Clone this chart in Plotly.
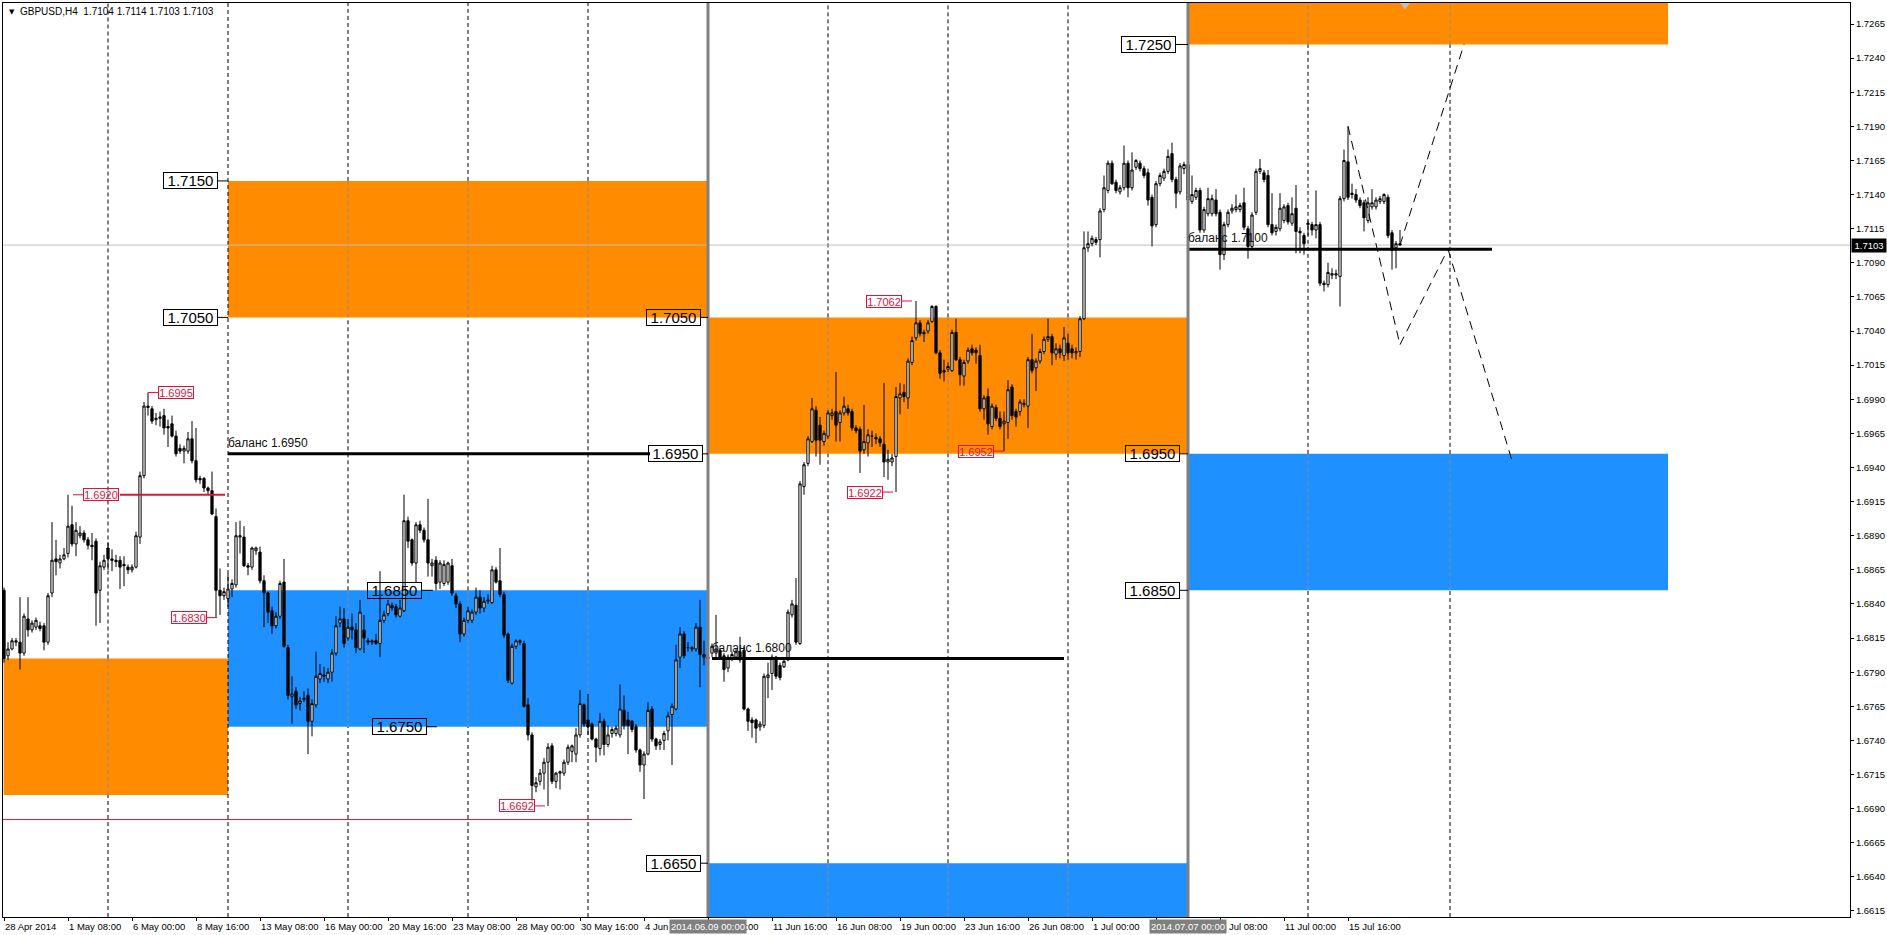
import plotly.graph_objects as go

FONT = "Liberation Sans, Arial, sans-serif"
BASE = 1.6  # candle values are stored in pips above 1.6000

# ---------------- H4 candles (bar 0 = 28 Apr 2014 16:00) ----------------
opens = [
 850,802,807,812,812,804,829,821,823,824,
 824,812,848,873,870,873,877,898,884,890,
 892,887,883,886,850,867,881,873,872,872,
 869,867,865,867,889,934,985,983,975,976,
 978,970,972,963,954,952,952,961,945,932,
 932,925,923,904,850,846,844,851,854,889,
 889,868,867,879,878,857,848,835,824,831,
 856,808,772,776,767,770,773,754,766,785,
 788,785,790,804,826,829,815,823,821,807,
 821,813,812,813,811,828,833,839,838,831,
 835,901,887,870,898,894,887,868,872,856,
 855,856,868,846,840,818,828,828,834,845,
 837,842,841,865,857,847,818,782,809,812,
 811,766,744,706,710,716,724,736,710,716,
 716,724,732,730,744,766,755,752,741,734,
 754,737,745,745,744,762,755,754,750,733,
 722,730,763,741,737,740,747,759,763,801,
 818,808,808,807,823,803,801,804,804,806,
 802,793,800,801,805,806,763,755,755,750,
 751,786,789,801,795,794,799,832,839,811,
 926,943,959,982,971,959,963,978,981,973,
 980,983,981,969,968,953,958,963,962,961,
 957,944,944,948,991,995,991,1017,1035,1046,
 1039,1040,1047,1058,1024,1011,1012,1011,1039,1019,
 1007,1018,1027,1026,1022,983,992,970,984,976,
 972,973,999,981,981,986,985,1019,1013,1018,
 1025,1034,1036,1023,1027,1022,1031,1027,1024,1025,
 1049,1101,1104,1107,1107,1129,1143,1163,1149,1142,
 1145,1163,1145,1160,1163,1159,1156,1138,1118,1148,
 1152,1157,1170,1151,1142,1159,1162,1135,1138,1143,
 1114,1126,1126,1136,1127,1096,1118,1128,1129,1129,
 1134,1115,1102,1127,1157,1156,1154,1118,1113,1115,
 1121,1132,1119,1130,1113,1110,1118,1118,1114,1118,
 1075,1074,1081,1081,1080,1137,1164,1141,1140,1136,
 1134,1121,1131,1131,1135,1135,1138,1112,1101,1104,
]
highs = [
 852,812,815,815,845,833,845,828,830,827,
 826,848,900,887,876,881,920,912,900,897,
 894,889,892,888,871,876,885,880,876,875,
 875,869,869,893,937,988,995,985,980,981,
 983,975,978,967,957,956,966,974,969,934,
 933,926,937,910,866,852,862,858,900,901,
 897,870,882,882,882,861,849,838,834,857,
 873,810,787,779,772,776,778,770,805,796,
 794,793,807,831,838,837,829,833,826,843,
 832,815,814,818,864,835,843,841,840,843,
 920,904,888,900,901,896,917,873,875,872,
 872,871,873,848,842,830,838,836,852,850,
 845,847,868,867,881,849,819,811,814,814,
 813,771,746,713,719,727,738,738,717,718,
 726,737,737,749,777,767,774,753,742,760,
 756,751,750,751,781,773,761,755,752,734,
 732,768,765,742,741,747,761,767,810,823,
 820,812,809,826,843,813,806,811,832,808,
 804,803,805,807,816,809,764,757,756,754,
 789,797,803,802,797,801,836,843,859,930,
 944,963,991,985,977,967,982,983,1010,982,
 992,986,983,971,970,986,968,967,965,963,
 1002,953,950,999,1002,1001,1020,1036,1062,1048,
 1041,1048,1059,1059,1026,1019,1017,1041,1049,1021,
 1019,1028,1030,1028,1030,993,998,987,986,981,
 981,1004,1001,983,990,990,1021,1038,1020,1027,
 1036,1049,1038,1031,1030,1043,1038,1030,1028,1051,
 1113,1113,1110,1109,1130,1154,1165,1165,1151,1147,
 1176,1165,1171,1166,1165,1161,1159,1140,1150,1156,
 1159,1173,1178,1153,1163,1164,1164,1154,1145,1145,
 1131,1145,1140,1144,1129,1120,1129,1133,1140,1134,
 1145,1117,1127,1159,1166,1158,1158,1141,1118,1141,
 1133,1134,1138,1147,1116,1112,1121,1120,1143,1120,
 1077,1090,1086,1085,1139,1173,1190,1148,1144,1138,
 1136,1138,1144,1138,1139,1141,1140,1114,1106,1114,
]
lows = [
 797,799,806,809,792,802,816,819,821,820,
 806,810,845,861,866,872,874,882,875,888,
 885,880,872,824,826,865,865,864,867,851,
 853,862,863,866,884,932,978,972,971,970,
 964,955,962,948,950,943,950,943,929,928,
 922,920,905,830,832,843,838,845,852,877,
 867,861,865,876,855,823,826,818,822,829,
 808,770,752,763,762,768,730,743,764,782,
 783,782,783,802,823,808,813,814,804,806,
 804,810,810,810,801,826,831,835,830,830,
 834,881,868,856,892,885,860,860,850,851,
 853,854,846,837,812,816,826,826,832,833,
 834,840,840,855,845,815,782,781,807,810,
 764,740,696,702,707,704,692,708,705,704,
 714,722,724,724,742,750,744,740,724,729,
 729,735,742,743,742,748,730,746,731,717,
 697,729,739,733,733,733,740,722,762,793,
 800,805,805,805,779,795,796,801,801,799,
 783,790,798,799,797,762,747,742,738,747,
 749,771,777,785,784,793,798,830,810,810,
 920,941,958,948,942,956,961,975,959,959,
 978,978,967,965,936,950,948,955,957,955,
 933,931,941,922,979,988,983,1015,1033,1036,
 1032,1038,1046,1023,1005,1003,1010,1010,1018,1000,
 1000,1016,1022,1016,981,975,964,968,974,968,
 952,961,975,970,978,984,969,1009,996,1016,
 1023,1032,1015,1019,1020,1018,1019,1020,1019,1021,
 1048,1098,1102,1103,1094,1127,1141,1147,1141,1140,
 1143,1138,1143,1158,1157,1152,1132,1102,1116,1146,
 1150,1155,1149,1130,1140,1155,1133,1133,1136,1112,
 1112,1124,1124,1124,1085,1092,1116,1126,1127,1127,
 1114,1093,1100,1125,1155,1149,1116,1110,1110,1113,
 1119,1118,1117,1097,1097,1096,1110,1110,1108,1073,
 1069,1072,1078,1078,1058,1135,1136,1137,1134,1130,
 1113,1119,1129,1129,1133,1133,1108,1085,1086,1103,
]
closes = [
 800,807,813,813,804,831,821,826,828,822,
 812,846,872,871,873,876,897,884,894,892,
 887,883,882,848,868,872,873,872,871,867,
 868,865,867,890,934,985,984,974,976,977,
 969,969,963,950,952,954,961,945,931,931,
 925,923,906,850,846,849,851,855,890,890,
 868,867,881,881,857,848,834,824,831,855,
 809,773,774,766,769,771,754,767,787,789,
 787,790,804,824,829,811,823,821,808,834,
 815,812,813,811,828,832,840,837,832,837,
 901,886,870,898,894,887,870,870,855,870,
 869,870,848,840,818,828,835,834,845,837,
 842,843,865,856,847,817,784,809,813,813,
 765,744,707,709,716,724,735,710,716,717,
 724,735,736,744,767,752,750,741,735,754,
 737,744,748,749,763,751,751,748,733,722,
 730,762,741,736,739,745,758,765,799,818,
 802,808,807,823,803,801,800,809,807,801,
 792,801,803,805,799,763,754,753,749,752,
 787,788,801,787,786,798,834,840,812,928,
 942,961,983,960,960,965,980,980,971,980,
 985,980,969,967,952,959,964,963,961,958,
 944,946,947,992,994,992,1018,1033,1046,1038,
 1038,1046,1058,1024,1009,1010,1014,1039,1019,1008,
 1017,1026,1024,1024,983,991,972,985,976,970,
 974,997,978,977,988,987,1019,1011,1018,1025,
 1034,1036,1024,1027,1024,1035,1024,1024,1025,1049,
 1101,1104,1108,1105,1128,1145,1163,1148,1143,1145,
 1163,1145,1158,1165,1159,1154,1136,1117,1148,1154,
 1157,1168,1151,1141,1161,1162,1136,1140,1143,1114,
 1129,1137,1137,1126,1096,1118,1127,1130,1131,1132,
 1116,1102,1125,1157,1159,1151,1118,1112,1116,1130,
 1131,1120,1126,1113,1112,1104,1119,1114,1118,1075,
 1074,1083,1082,1082,1137,1165,1138,1140,1136,1132,
 1123,1134,1134,1136,1137,1140,1110,1099,1104,1103,
]

# ---------------- axes ----------------
time_label_bars = [0, 16, 32, 48, 64, 80, 96, 112, 128, 144, 160, 176, 192, 208,
                   224, 240, 256, 272, 288, 304, 320, 336]
time_labels = ["28 Apr 2014", "1 May 08:00", "6 May 00:00", "8 May 16:00", "13 May 08:00",
               "16 May 00:00", "20 May 16:00", "23 May 08:00", "28 May 00:00", "30 May 16:00",
               "4 Jun 08:00", "9 Jun 00:00", "11 Jun 16:00", "16 Jun 08:00", "19 Jun 00:00",
               "23 Jun 16:00", "26 Jun 08:00", "1 Jul 00:00", "3 Jul 16:00", "8 Jul 08:00",
               "11 Jul 00:00", "15 Jul 16:00"]
price_ticks = [1.6615, 1.6640, 1.6665, 1.6690, 1.6715, 1.6740, 1.6765, 1.6790, 1.6815,
               1.6840, 1.6865, 1.6890, 1.6915, 1.6940, 1.6965, 1.6990, 1.7015, 1.7040,
               1.7065, 1.7090, 1.7115, 1.7140, 1.7165, 1.7190, 1.7215, 1.7240, 1.7265]
grid_bars = [26, 56, 86, 116, 146, 206, 236, 266, 326, 361.5]
vline_bars = [176, 296]
vline_labels = ["2014.06.09 00:00", "2014.07.07 00:00"]
bid_price = 1.7103
title_text = "GBPUSD,H4  1.7104 1.7114 1.7103 1.7103"

X_MIN, X_MAX = -0.25, 461.5
Y_MIN, Y_MAX = 1.661059, 1.728039

ORANGE = "#FF8C00"
BLUE = "#1E90FF"
RED = "#DC143C"

# ---------------- objects ----------------
zones = [  # bar0, bar1, low, high, colour
    (-0.1, 56, 1.6700, 1.6800, ORANGE),
    (56, 176, 1.7050, 1.7150, ORANGE),
    (56, 176, 1.6750, 1.6850, BLUE),
    (176, 296, 1.6950, 1.7050, ORANGE),
    (176, 296, 1.6550, 1.6650, BLUE),
    (296, 416, 1.7250, 1.7350, ORANGE),
    (296, 416, 1.6850, 1.6950, BLUE),
]
level_labels = [  # price, anchor bar, gap px
    (1.7150, 56, 10), (1.7050, 56, 10), (1.7050, 176, 7), (1.6950, 176, 5),
    (1.6650, 176, 7), (1.6850, 107.2, 11), (1.6750, 108.2, 10),
    (1.7250, 296, 12), (1.6950, 296, 8), (1.6850, 296, 8),
]
balance_lines = [  # bar0, bar1, price, text
    (56, 161.5, 1.6950, "баланс 1.6950"),
    (177, 265, 1.6800, "баланс 1.6800"),
    (296, 372, 1.7100, "баланс 1.7100"),
]
red_lines = [(29, 55.25, 1.6920, 2), (-0.25, 157, 1.6682, 1)]
red_labels = [  # price, anchor bar, side of box
    (1.6995, 36, "right"), (1.6920, 17.25, "right"), (1.6830, 53.25, "left"),
    (1.6692, 135.25, "left"), (1.7062, 227, "left"), (1.6922, 222.25, "left"),
    (1.6952, 250, "left"),
]
zigzag = [((336, 1.7190), (349, 1.7030)), ((349, 1.7030), (361, 1.7100)),
          ((361, 1.7100), (377, 1.6945)), ((349, 1.7103), (365, 1.7250))]


def price(v):
    return BASE + v / 10000.0


bars = list(range(len(closes)))

fig = go.Figure()
fig.add_trace(go.Candlestick(
    x=bars,
    open=[price(v) for v in opens], high=[price(v) for v in highs],
    low=[price(v) for v in lows], close=[price(v) for v in closes],
    increasing=dict(line=dict(color="black", width=1), fillcolor="white"),
    decreasing=dict(line=dict(color="black", width=1), fillcolor="black"),
    whiskerwidth=0, hoverinfo="skip", showlegend=False))

zx, zy = [], []
for (a, b) in zigzag:
    zx += [a[0], b[0], None]
    zy += [a[1], b[1], None]
fig.add_trace(go.Scatter(x=zx, y=zy, mode="lines", hoverinfo="skip", showlegend=False,
                         line=dict(color="black", width=1, dash="9px,6px")))
fig.add_trace(go.Scatter(x=[350.25], y=[1.72789], mode="markers", hoverinfo="skip",
                         showlegend=False, cliponaxis=False,
                         marker=dict(symbol="triangle-down", size=9, color="#C0C0C0")))

shapes = []
for b0, b1, lo, hi, col in zones:
    shapes.append(dict(type="rect", xref="x", yref="y", x0=b0, x1=b1, y0=lo, y1=hi,
                       fillcolor=col, line=dict(width=0), layer="below"))

# vertical grid (gray where it crosses a filled zone)
for g in grid_bars:
    spans = sorted((max(lo, Y_MIN), min(hi, Y_MAX)) for b0, b1, lo, hi, c in zones
                   if b0 < g < b1 and hi > Y_MIN and lo < Y_MAX)
    cur = Y_MIN
    segs = []
    for lo, hi in spans:
        if lo > cur:
            segs.append((cur, lo, "black"))
        segs.append((lo, hi, "#8a8a8a"))
        cur = max(cur, hi)
    if cur < Y_MAX:
        segs.append((cur, Y_MAX, "black"))
    for y0, y1, col in segs:
        shapes.append(dict(type="line", xref="x", yref="y", x0=g, x1=g, y0=y0, y1=y1,
                           line=dict(color=col, width=1, dash="4px,3px"), layer="below"))

shapes.append(dict(type="line", xref="x", yref="y", x0=X_MIN, x1=X_MAX, y0=bid_price,
                   y1=bid_price, line=dict(color="#C0C0C0", width=1), layer="below"))

for b0, b1, p, t in balance_lines:
    shapes.append(dict(type="line", xref="x", yref="y", x0=b0, x1=b1, y0=p, y1=p,
                       line=dict(color="black", width=3), layer="above"))
for b0, b1, p, w in red_lines:
    shapes.append(dict(type="line", xref="x", yref="y", x0=b0, x1=b1, y0=p, y1=p,
                       line=dict(color=RED, width=w), layer="above"))
for vb in vline_bars:
    shapes.append(dict(type="line", xref="x", yref="paper", x0=vb, x1=vb, y0=0, y1=1,
                       line=dict(color="#808080", width=3), layer="above"))

annotations = []
for p, anchor, gap in level_labels:
    shapes.append(dict(type="line", xref="x", yref="y", x0=anchor - gap / 4.0, x1=anchor,
                       y0=p, y1=p, line=dict(color="black", width=1), layer="above"))
    annotations.append(dict(x=anchor, y=p, xref="x", yref="y", text=f"{p:.4f}",
                            showarrow=False, xanchor="right", yanchor="middle", xshift=-gap,
                            font=dict(family=FONT, size=15, color="black"),
                            bordercolor="black", borderwidth=1, borderpad=0,
                            width=53, height=15))
for p, anchor, side in red_labels:
    tick = 2.6
    if side == "right":
        x0, x1, xanchor, xs = anchor, anchor + tick, "left", tick * 4
    else:
        x0, x1, xanchor, xs = anchor - tick, anchor, "right", -tick * 4
    shapes.append(dict(type="line", xref="x", yref="y", x0=x0, x1=x1, y0=p, y1=p,
                       line=dict(color=RED, width=1), layer="above"))
    annotations.append(dict(x=anchor, y=p, xref="x", yref="y", text=f"{p:.4f}",
                            showarrow=False, xanchor=xanchor, yanchor="middle", xshift=xs,
                            font=dict(family=FONT, size=11, color=RED),
                            bordercolor=RED, borderwidth=1, borderpad=0,
                            width=34, height=11))
for b0, b1, p, t in balance_lines:
    annotations.append(dict(x=b0, y=p, xref="x", yref="y", text=t, showarrow=False,
                            xanchor="left", yanchor="bottom", yshift=2, xshift=-2,
                            font=dict(family=FONT, size=12, color="#111111")))

for b, t in zip(time_label_bars, time_labels):
    annotations.append(dict(x=b, y=0, xref="x", yref="paper", text=t, showarrow=False,
                            xanchor="left", yanchor="top", yshift=-2, xshift=-1,
                            font=dict(family=FONT, size=9.5, color="black")))
for b, t in zip(vline_bars, vline_labels):
    annotations.append(dict(x=b, y=0, xref="x", yref="paper", text=t, showarrow=False,
                            xanchor="center", yanchor="top", yshift=-2, bgcolor="#808080",
                            borderpad=1, font=dict(family=FONT, size=9.5, color="white")))

annotations.append(dict(x=1, y=bid_price, xref="paper", yref="y", text=f"{bid_price:.4f}",
                        showarrow=False, xanchor="left", yanchor="middle", xshift=1,
                        bgcolor="black", borderpad=1, width=32,
                        font=dict(family=FONT, size=9.5, color="white")))
annotations.append(dict(x=0, y=1, xref="paper", yref="paper", text="▼", showarrow=False,
                        xanchor="left", yanchor="top", xshift=4, yshift=-3,
                        font=dict(family="DejaVu Sans", size=7, color="black")))
annotations.append(dict(x=0, y=1, xref="paper", yref="paper", text=title_text,
                        showarrow=False, xanchor="left", yanchor="top", xshift=15, yshift=-1,
                        font=dict(family=FONT, size=10, color="black")))

fig.update_layout(
    width=1887, height=935, template="none",
    margin=dict(l=3, r=37, t=3, b=18),
    paper_bgcolor="white", plot_bgcolor="white",
    showlegend=False, boxgap=0.2,
    shapes=shapes, annotations=annotations,
    xaxis=dict(range=[X_MIN, X_MAX], showgrid=False, zeroline=False, showline=True,
               mirror=True, linecolor="black", linewidth=1, ticks="outside", ticklen=3,
               tickcolor="black", tickvals=time_label_bars, showticklabels=False,
               rangeslider=dict(visible=False), automargin=False, fixedrange=True),
    yaxis=dict(range=[Y_MIN, Y_MAX], side="right", showgrid=False, zeroline=False,
               showline=True, mirror=True, linecolor="black", linewidth=1,
               ticks="outside", ticklen=3, tickcolor="black", tickvals=price_ticks,
               ticktext=[f"{v:.4f}" for v in price_ticks],
               tickfont=dict(family=FONT, size=9.5, color="black"),
               automargin=False, fixedrange=True),
)

fig.write_html("out.html", config={"displayModeBar": False, "staticPlot": True},
               post_script="document.body.style.margin='0';document.body.style.overflow='hidden';")
